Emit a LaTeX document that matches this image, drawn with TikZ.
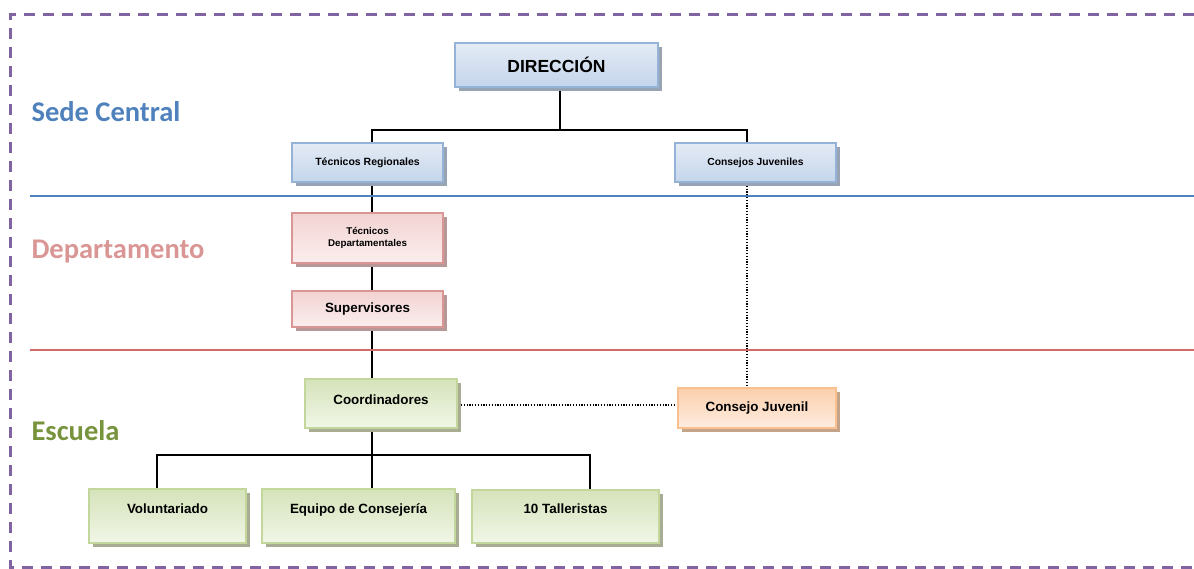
\documentclass[tikz,border=0pt]{standalone}
\usepackage{fontspec}
\setmainfont{Liberation Sans}
\newfontfamily\calfont{Carlito}
\usetikzlibrary{shadows,backgrounds}
\definecolor{bbord}{HTML}{95B3D7}
\definecolor{btop}{HTML}{E4EBF5}
\definecolor{bbot}{HTML}{C4D5EB}
\definecolor{bshad}{HTML}{98A4B4}
\definecolor{pbord}{HTML}{D99694}
\definecolor{ptop}{HTML}{F2D3D2}
\definecolor{pbot}{HTML}{FBEEEE}
\definecolor{pshad}{HTML}{B59897}
\definecolor{obord}{HTML}{FAC090}
\definecolor{otop}{HTML}{FCCFAB}
\definecolor{obot}{HTML}{FDEDE1}
\definecolor{oshad}{HTML}{C4A488}
\definecolor{gbord}{HTML}{C3D69B}
\definecolor{gtop}{HTML}{D5E3BA}
\definecolor{gbot}{HTML}{F1F6E7}
\definecolor{gshad}{HTML}{A8AC93}
\definecolor{frame}{HTML}{8064A2}
\definecolor{sedec}{HTML}{4F81BD}
\definecolor{depc}{HTML}{D99694}
\definecolor{escc}{HTML}{77933C}
\definecolor{redline}{HTML}{CF6B69}
\tikzset{
  box/.style={rectangle, inner sep=0pt, line width=2.2pt, align=center,
    font=\bfseries\fontsize{13.4}{15}\selectfont},
  bluebox/.style={box, draw=bbord, top color=btop, bottom color=bbot,
    drop shadow={shadow xshift=4pt, shadow yshift=-4pt, fill=bshad, opacity=1}},
  pinkbox/.style={box, draw=pbord, top color=ptop, bottom color=pbot,
    drop shadow={shadow xshift=4pt, shadow yshift=-4pt, fill=pshad, opacity=1}},
  orangebox/.style={box, draw=obord, top color=otop, bottom color=obot,
    drop shadow={shadow xshift=4pt, shadow yshift=-4pt, fill=oshad, opacity=1}},
  greenbox/.style={box, draw=gbord, top color=gtop, bottom color=gbot,
    drop shadow={shadow xshift=4pt, shadow yshift=-4pt, fill=gshad, opacity=1}},
  conn/.style={line width=2.4pt, black},
  dotconn/.style={line width=1.2pt, black, dash pattern=on 1.2pt off 1.6pt},
  zone/.style={anchor=west, font=\calfont\bfseries\fontsize{28.5}{30}\selectfont},
}
\begin{document}
\begin{tikzpicture}[x=1pt,y=-1pt]
\useasboundingbox (0,0) rectangle (1194,569);
% frame
\draw[frame, line width=3pt, dash pattern=on 11pt off 8pt] (1194,15) -- (10,15) -- (10,567) -- (1194,567);
% zone separators
\draw[sedec, line width=1.8pt] (30,196) -- (1194,196);
\draw[redline, line width=1.8pt] (30,350) -- (1194,350);
% zone labels
\node[zone, text=sedec] (lsede) at (28,112) {Sede Central};
\node[zone, text=depc] (ldep) at (28,252) {Departamento};
\node[zone, text=escc] (lesc) at (28,431) {Escuela};
% reference coordinates
\coordinate (spine) at (372,0);
\coordinate (cjx) at (747,0);
\coordinate (volx) at (157,0);
\coordinate (tallx) at (590,0);
\coordinate (j1) at (560,130);
\coordinate (j2) at (372,455);
% boxes
\node[bluebox, minimum width=203pt, minimum height=44pt,
  font=\bfseries\fontsize{17.5}{19}\selectfont] (dir) at (556.5,65) {DIRECCIÓN};
\node[bluebox, minimum width=151pt, minimum height=39pt,
  font=\bfseries\fontsize{10.5}{12}\selectfont] (tr) at (367.5,162.5) {Técnicos Regionales};
\node[bluebox, minimum width=161pt, minimum height=39pt,
  font=\bfseries\fontsize{10.3}{12}\selectfont] (cjs) at (755.5,162.5) {Consejos Juveniles};
\node[pinkbox, minimum width=151pt, minimum height=50pt,
  font=\bfseries\fontsize{9.8}{11.5}\selectfont] (td) at (367.5,238) {Técnicos\\Departamentales};
\node[pinkbox, minimum width=151pt, minimum height=36pt] (sup) at (367.5,309) {Supervisores};
\node[greenbox, minimum width=152pt, minimum height=49pt, text depth=7pt] (coord) at (381,403.5) {Coordinadores};
\node[orangebox, minimum width=158pt, minimum height=40pt] (cj) at (757,408) {Consejo Juvenil};
\node[greenbox, minimum width=157pt, minimum height=54pt, text height=9pt, text depth=15pt] (vol) at (167.5,516) {Voluntariado};
\node[greenbox, minimum width=193pt, minimum height=54pt, text height=9pt, text depth=15pt] (equ) at (358.5,516) {Equipo de Consejería};
\node[greenbox, minimum width=187pt, minimum height=53pt, text height=9pt, text depth=15pt] (tal) at (565.5,516.5) {10 Talleristas};
% connectors
\begin{scope}[on background layer]
\draw[conn] (dir.south -| j1) -- (j1);
\draw[conn] (j1) -| (tr.north -| spine);
\draw[conn] (j1) -| (cjs.north -| cjx);
\draw[conn] (tr.south -| spine) -- (td.north -| spine);
\draw[conn] (td.south -| spine) -- (sup.north -| spine);
\draw[conn] (sup.south -| spine) -- (coord.north -| spine);
\draw[conn] (coord.south -| spine) -- (j2);
\draw[conn] (j2) -| (vol.north -| volx);
\draw[conn] (j2) -| (tal.north -| tallx);
\draw[conn] (j2) -- (equ.north -| spine);
\draw[dotconn] (cjs.south -| cjx) -- (cj.north -| cjx);
\draw[dotconn] ([yshift=-1.5pt]coord.east) -- ([yshift=-1.5pt]coord.east -| cj.west);
\end{scope}
\end{tikzpicture}
\end{document}
